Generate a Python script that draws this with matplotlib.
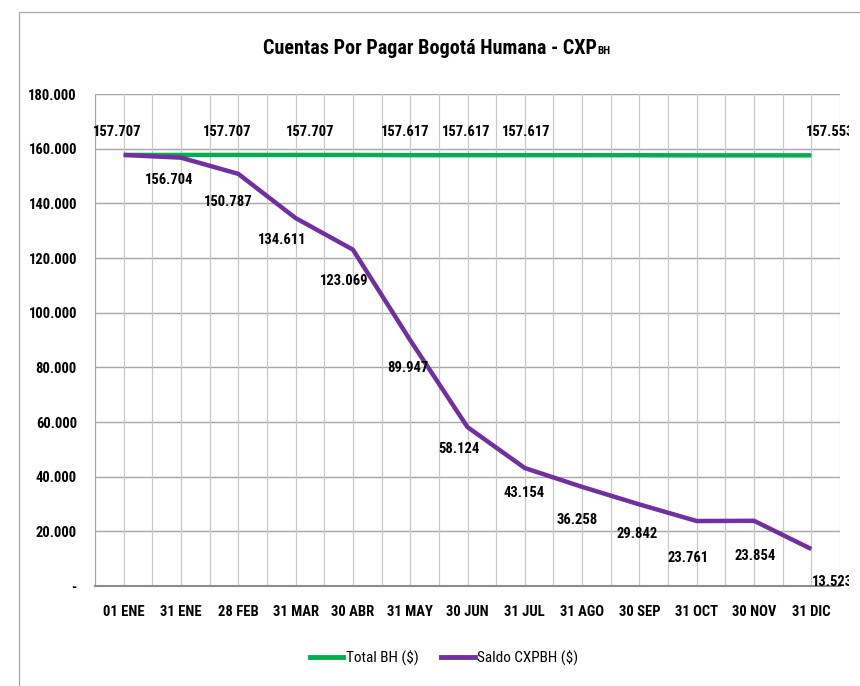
import os
import matplotlib
matplotlib.use("Agg")
import matplotlib.pyplot as plt
from matplotlib.lines import Line2D
from matplotlib.patches import Rectangle
from matplotlib import font_manager
from matplotlib.font_manager import FontProperties
from matplotlib.transforms import Bbox, TransformedBbox

# ---- data ----
categories = ["01 ENE", "31 ENE", "28 FEB", "31 MAR", "30 ABR", "31 MAY", "30 JUN",
              "31 JUL", "31 AGO", "30 SEP", "31 OCT", "30 NOV", "31 DIC"]
total_bh = [157707, 157707, 157707, 157707, 157707, 157617, 157617,
            157617, 157617, 157600, 157553, 157553, 157553]
saldo_cxpbh = [157707, 156704, 150787, 134611, 123069, 89947, 58124,
               43154, 36258, 29842, 23761, 23854, 13523]
total_labeled = [0, 2, 3, 5, 6, 7, 12]
y_ticks = [0, 20000, 40000, 60000, 80000, 100000, 120000, 140000, 160000, 180000]

# ---- label layout (pixel offsets from the point) ----
green_off = {0: (-7, 23), 2: (-11, 23), 3: (15, 23), 5: (-5, 23), 6: (-1, 23), 7: (1, 23), 12: (-5, 23)}
purple_off = {1: (-12, -22), 2: (-10, -28), 3: (-13, -22), 4: (-9, -31), 5: (-2, -28),
              6: (-9, -22), 7: (-1, -25), 8: (-5, -33), 9: (-2, -30), 10: (-9, -37),
              11: (1, -35), 12: (1, -33)}

# ---- fonts ----
fnames = [f.fname for f in font_manager.fontManager.ttflist]

def pick(preferred, must):
    for p in preferred:
        for fn in fnames:
            if os.path.basename(fn).lower() == p.lower():
                return fn
    for fn in fnames:
        b = os.path.basename(fn).lower()
        if ("condensed" in b or "narrow" in b) and all(m(b) for m in must):
            return fn
    return None

bold_fn = pick(["LiberationSansNarrow-Bold.ttf", "RobotoCondensed-Bold.ttf",
                "DejaVuSansCondensed-Bold.ttf", "OpenSans_Condensed-Bold.ttf"],
               [lambda b: "bold" in b, lambda b: "italic" not in b and "oblique" not in b,
                lambda b: "semibold" not in b and "extrabold" not in b])
reg_fn = pick(["LiberationSansNarrow-Regular.ttf", "RobotoCondensed-Regular.ttf",
               "DejaVuSansCondensed.ttf", "OpenSans_Condensed-Regular.ttf"],
              [lambda b: "bold" not in b, lambda b: "italic" not in b and "oblique" not in b,
               lambda b: "light" not in b and "thin" not in b and "medium" not in b
               and "black" not in b])

if bold_fn:
    FB = lambda s: FontProperties(fname=bold_fn, size=s)
else:
    FB = lambda s: FontProperties(family=["Liberation Sans", "DejaVu Sans"], weight="bold", size=s - 1)
if reg_fn:
    FR = lambda s: FontProperties(fname=reg_fn, size=s)
else:
    FR = lambda s: FontProperties(family=["Liberation Sans", "DejaVu Sans"], size=s - 1)
LBL = 10.5

def fmt(v):
    if v == 0:
        return "-"
    return f"{v:,.0f}".replace(",", ".")

GREEN = "#00B050"
PURPLE = "#7030A0"
PX = 0.72  # points per pixel at dpi 100

fig = plt.figure(figsize=(8.6, 6.86), dpi=100)
fig.patch.set_facecolor("white")
fig.add_artist(Rectangle((19/860, -0.1), 2.0, (686-12)/686 + 0.1, transform=fig.transFigure,
                         fill=False, edgecolor="#a6a6a6", linewidth=0.9))
clip = TransformedBbox(Bbox([[0, 0], [849/860, 1]]), fig.transFigure)

ax = fig.add_axes([95/860, (686-586)/686, (840-95)/860, (586-94)/686])
x = list(range(len(categories)))
ax.set_xlim(-0.5, len(categories) - 0.5)
ax.set_ylim(0, 180000)

for yv in y_ticks[1:]:
    ax.axhline(yv, color="#a6a6a6", linewidth=1.0, zorder=1)
for i in range(2 * len(categories) + 1):
    ax.axvline(-0.5 + i * 0.5, color="#c8c8c8", linewidth=0.9, zorder=1)

ax.plot(x, total_bh, color=GREEN, linewidth=3.2, zorder=3, solid_capstyle="butt")
ax.plot(x, saldo_cxpbh, color=PURPLE, linewidth=3.2, zorder=4, solid_capstyle="butt")

for s in ["top", "right"]:
    ax.spines[s].set_visible(False)
ax.spines["left"].set_color("#a6a6a6")
ax.spines["bottom"].set_color("#8c8c8c")
ax.spines["bottom"].set_linewidth(1.5)

ax.set_yticks(y_ticks)
ax.set_yticklabels([fmt(v) for v in y_ticks])
ax.set_xticks(x)
ax.set_xticklabels(categories)
for lbl in ax.get_xticklabels() + ax.get_yticklabels():
    lbl.set_fontproperties(FB(LBL))
ax.tick_params(axis="both", length=0)
ax.tick_params(axis="x", pad=14)
ax.tick_params(axis="y", pad=13)

for i in total_labeled:
    dx, dy = green_off[i]
    ha = "left" if i == 12 else "center"
    a = ax.annotate(fmt(total_bh[i]), (x[i], total_bh[i]), xytext=(dx * PX, dy * PX),
                    textcoords="offset points", ha=ha, va="center",
                    fontproperties=FB(LBL), color="black", zorder=5, annotation_clip=False)
    a.set_clip_on(True)
    a.set_clip_box(clip)

for i in range(1, len(categories)):
    dx, dy = purple_off[i]
    ha = "left" if i == 12 else "center"
    a = ax.annotate(fmt(saldo_cxpbh[i]), (x[i], saldo_cxpbh[i]), xytext=(dx * PX, dy * PX),
                    textcoords="offset points", ha=ha, va="center",
                    fontproperties=FB(LBL), color="black", zorder=5, annotation_clip=False)
    a.set_clip_on(True)
    a.set_clip_box(clip)

t = fig.text(0.5, 1 - 48/686, "Cuentas Por Pagar Bogotá Humana - CXP", ha="center",
             va="center", fontproperties=FB(14.5))
fig.canvas.draw()
ax.annotate("BH", xy=(1.0, 0.08), xycoords=t, ha="left", va="bottom",
            fontproperties=FB(8))

handles = [Line2D([], [], color=GREEN, linewidth=3.5),
           Line2D([], [], color=PURPLE, linewidth=3.5)]
fig.legend(handles, ["Total BH ($)", "Saldo CXPBH ($)"], loc="center",
           bbox_to_anchor=(444/860, 1 - 658/686), ncol=2, frameon=False, prop=FR(11),
           handlelength=2.2, handletextpad=0.15, columnspacing=1.5)

fig.savefig("out.png", dpi=100)
